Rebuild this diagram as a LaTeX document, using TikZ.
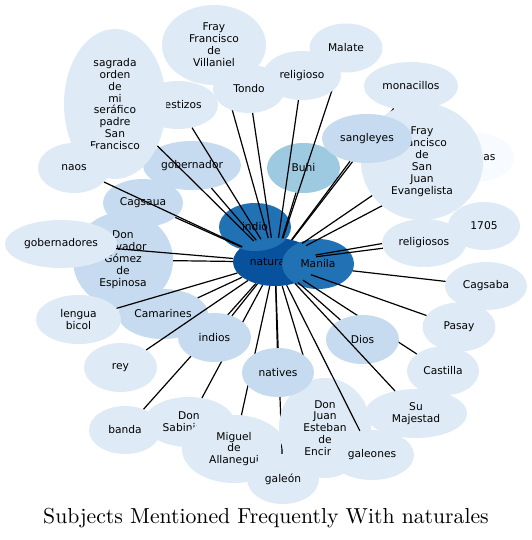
\documentclass[tikz,border=0pt]{standalone}
\usepackage{fontspec}
\usetikzlibrary{shapes.geometric}
\newfontfamily\dvsans{DejaVu Sans}
\newfontfamily\ttlfont{lmroman10-regular.otf}
\newcommand\ndfont{\dvsans\fontsize{10.67}{11.9}\selectfont}
\definecolor{cA}{HTML}{F7FBFF}
\definecolor{cB}{HTML}{DEEBF7}
\definecolor{cC}{HTML}{C6DBEF}
\definecolor{cD}{HTML}{9ECAE1}
\definecolor{cG}{HTML}{2171B5}
\definecolor{cH}{HTML}{08519C}
\tikzset{
  nd/.style={ellipse, inner sep=0pt, font=\ndfont, align=center, text=black},
  ed/.style={draw=black, line width=1.2pt},
  sz/.style 2 args={minimum width=#1pt, minimum height=#2pt}
}
\begin{document}
\begin{tikzpicture}[x=1pt,y=-1pt]
\useasboundingbox (0,0) rectangle (531,540);
\fill[white] (0,0) rectangle (531,540);
% center
\node[nd, fill=cH, sz={84}{48}] (nat) at (275,262) {naturales};
\node[nd, fill=cG, sz={72}{48}] (indio) at (255,227) {indio};
\node[nd, fill=cB, sz={82}{48}] (cagsaba) at (486,286) {Cagsaba};
\draw[ed] (nat) -- (cagsaba);
\node[nd, fill=cG, sz={72}{50}] (manila) at (318,264) {Manila};
\node[nd, fill=cD, sz={73}{50}] (buhi) at (303.5,168) {Buhi};
\node[nd, fill=cC, sz={98}{49}] (gobernador) at (192,165.5) {gobernador};
\node[nd, fill=cC, sz={80}{48}] (cagsaua) at (143,203) {Cagsaua};
\node[nd, fill=cC, sz={100}{96}] (salvador) at (123,260) {Don\\Salvador\\Gómez\\de\\Espinosa};
\node[nd, fill=cC, sz={90}{50}] (camarines) at (163,314) {Camarines};
\node[nd, fill=cB, sz={72}{49}] (castilla) at (443,371) {Castilla};
\draw[ed] (nat) -- (castilla);
\node[nd, fill=cC, sz={73}{49}] (dios) at (362.5,339.5) {Dios};
% bottom
\node[nd, fill=cB, sz={72}{48}] (banda) at (125,430) {banda};
\draw[ed] (nat) -- (banda);
\node[nd, fill=cB, sz={90}{50}] (sabin) at (189,422) {Don\\Sabiniano};
\draw[ed] (nat) -- (sabin);
\node[nd, fill=cB, sz={104}{68}] (miguel) at (234,449) {Miguel\\de\\Allanegui};
\draw[ed] (nat) -- (miguel);
\node[nd, fill=cB, sz={72}{50}] (galeon) at (283,479) {galeón};
\draw[ed] (nat) -- (galeon);
\node[nd, fill=cB, sz={92}{100}] (donjuan) at (325,428) {Don\\Juan\\Esteban\\de\\Encinas};
\draw[ed] (nat) -- (donjuan);
\node[nd, fill=cC, sz={73}{49}] (indios) at (214.5,337.5) {indios};
\draw[ed] (nat) -- (indios);
\node[nd, fill=cC, sz={72}{49}] (natives) at (278,372.5) {natives};
\draw[ed] (nat) -- (natives);
\node[nd, fill=cB, sz={102}{49}] (sumaj) at (416,413.5) {Su\\Majestad};
\draw[ed] (nat) -- (sumaj);
\node[nd, fill=cB, sz={84}{50}] (galeones) at (372,455) {galeones};
\draw[ed] (nat) -- (galeones);
\node[nd, fill=cB, sz={73}{49}] (pasay) at (459,327) {Pasay};
\draw[ed] (nat) -- (pasay);
\draw[ed] (nat) -- (dios);
% right
\node[nd, fill=cB, sz={72}{48}] (n1705) at (484,226) {1705};
\draw[ed] (nat) -- (n1705);
\node[nd, fill=cB, sz={84}{48}] (religiosos) at (424,243) {religiosos};
\draw[ed] (nat) -- (religiosos);
\node[nd, fill=cA, sz={80}{49}] (filipinas) at (474,157.5) {Filipinas};
\draw[ed] (nat) -- (filipinas);
\node[nd, fill=cB, sz={94}{48}] (monacillos) at (411,86) {monacillos};
\draw[ed] (nat) -- (monacillos);
\node[nd, fill=cB, sz={122}{117}] (ffsje) at (422,161.5) {Fray\\Francisco\\de\\San\\Juan\\Evangelista};
\draw[ed] (nat) -- (ffsje);
\node[nd, fill=cC, sz={90}{49}] (sangleyes) at (367,138.5) {sangleyes};
\draw[ed] (nat) -- (sangleyes);
\draw[ed] (nat) -- (buhi);
% top
\node[nd, fill=cB, sz={73}{49}] (malate) at (346,48) {Malate};
\draw[ed] (nat) -- (malate);
\node[nd, fill=cB, sz={78}{49}] (religioso) at (302,75.5) {religioso};
\draw[ed] (nat) -- (religioso);
\node[nd, fill=cB, sz={104}{80}] (villaniel) at (214,45) {Fray\\Francisco\\de\\Villaniel};
\draw[ed] (nat) -- (villaniel);
\node[nd, fill=cB, sz={72}{48}] (tondo) at (249,89) {Tondo};
\draw[ed] (nat) -- (tondo);
\node[nd, fill=cB, sz={80}{48}] (mestizos) at (178,105) {mestizos};
\draw[ed] (nat) -- (mestizos);
\node[nd, fill=cB, sz={102}{150}] (sagrada) at (115,104) {sagrada\\orden\\de\\mi\\seráfico\\padre\\San\\Francisco};
\draw[ed] (nat) -- (sagrada);
\node[nd, fill=cB, sz={72}{50}] (naos) at (74,168) {naos};
\draw[ed] (nat) -- (naos);
\draw[ed] (nat) -- (gobernador);
\draw[ed] (nat) -- (cagsaua);
% left
\node[nd, fill=cB, sz={112}{48}] (gobernadores) at (61,244) {gobernadores};
\draw[ed] (nat) -- (gobernadores);
\draw[ed] (nat) -- (salvador);
\node[nd, fill=cB, sz={85}{49}] (lengua) at (78.5,319.5) {lengua\\bicol};
\draw[ed] (nat) -- (lengua);
\draw[ed] (nat) -- (camarines);
\node[nd, fill=cB, sz={73}{49}] (rey) at (120.5,367.5) {rey};
\draw[ed] (nat) -- (rey);
% title
\node[anchor=base, inner sep=0pt, font=\ttlfont\fontsize{21.7}{26}\selectfont] (title) at (266,523.5) {Subjects Mentioned Frequently With naturales};
\end{tikzpicture}
\end{document}
